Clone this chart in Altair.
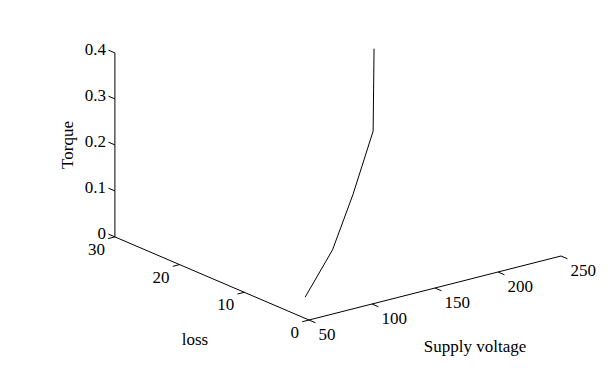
import altair as alt
import pandas as pd
import numpy as np

# ---- data (3-D curve: supply voltage, loss, torque) ----
voltage = [50, 100, 150, 200, 230]
loss = [0.6, 6.1, 12.7, 19.3, 25.0]
torque = [0.046, 0.081, 0.126, 0.190, 0.314]

volt_ticks = [50, 100, 150, 200, 250]
loss_ticks = [0, 10, 20, 30]
torque_ticks = [0, 0.1, 0.2, 0.3, 0.4]
torque_labels = ["0", "0.1", "0.2", "0.3", "0.4"]

V0, V1 = 50, 250
L0, L1 = 0, 30
T0, T1 = 0, 0.4

# ---- fixed 3-D view (MATLAB-style oblique projection) ----
ORIGIN = (309.0, 320.0)          # screen point of (V0, L0, T0)
EV = (1.26, -0.32)               # per volt
EL = (-6.47, -2.77)              # per unit loss
ET = (0.0, -460.0)               # per unit torque


def proj(v, l, t):
    v = np.asarray(v, float); l = np.asarray(l, float); t = np.asarray(t, float)
    sx = ORIGIN[0] + EV[0] * (v - V0) + EL[0] * (l - L0) + ET[0] * (t - T0)
    sy = ORIGIN[1] + EV[1] * (v - V0) + EL[1] * (l - L0) + ET[1] * (t - T0)
    return sx, sy


def unit(vec):
    n = np.hypot(*vec)
    return (vec[0] / n, vec[1] / n)


TICK = 7.0
FONT = "Liberation Serif"
FS = 17

X = alt.Scale(domain=[0, 612], range=[0, 612])
Y = alt.Scale(domain=[0, 373], range=[0, 373])

# ---- axis lines ----
ax_rows = []
for (a, b) in [((V0, L1, T0), (V0, L1, T1)),   # torque axis
               ((V0, L0, T0), (V0, L1, T0)),   # loss axis
               ((V0, L0, T0), (V1, L0, T0))]:  # voltage axis
    x1, y1 = proj(*a); x2, y2 = proj(*b)
    ax_rows.append(dict(x=float(x1), y=float(y1), x2=float(x2), y2=float(y2)))

# ---- ticks ----
tick_rows = []
lab_rows = []
ul = unit(EL)
uv = unit(EV)
for tv, tl in zip(torque_ticks, torque_labels):
    x, y = proj(V0, L1, tv)
    tick_rows.append(dict(x=float(x), y=float(y), x2=float(x + ul[0] * TICK), y2=float(y + ul[1] * TICK)))
    lab_rows.append(dict(x=float(x - 9), y=float(y - 3), text=tl, align="right"))
for lv in loss_ticks:
    x, y = proj(V0, lv, T0)
    tick_rows.append(dict(x=float(x), y=float(y), x2=float(x - uv[0] * TICK), y2=float(y - uv[1] * TICK)))
    lab_rows.append(dict(x=float(x - 10), y=float(y + 13), text=str(lv), align="right"))
for vv in volt_ticks:
    x, y = proj(vv, L0, T0)
    tick_rows.append(dict(x=float(x), y=float(y), x2=float(x - ul[0] * TICK), y2=float(y - ul[1] * TICK)))
    lab_rows.append(dict(x=float(x + 9.5), y=float(y + 15), text=str(vv), align="left"))

axes_df = pd.DataFrame(ax_rows + tick_rows)
labels_df = pd.DataFrame(lab_rows)

cx, cy = proj(voltage, loss, torque)
curve_df = pd.DataFrame({"x": cx, "y": cy, "i": range(len(voltage))})

titles_df = pd.DataFrame([
    dict(x=195.0, y=340.0, text="loss", angle=0),
    dict(x=475.0, y=347.0, text="Supply voltage", angle=0),
])

base_x = alt.X("x:Q", scale=X, axis=None)
base_y = alt.Y("y:Q", scale=Y, axis=None)

axes_layer = alt.Chart(axes_df).mark_rule(color="#000000", strokeWidth=1).encode(
    x=base_x, y=base_y, x2="x2:Q", y2="y2:Q")

curve_layer = alt.Chart(curve_df).mark_line(color="#000000", strokeWidth=1).encode(
    x=base_x, y=base_y, order="i:Q")

lab_r = alt.Chart(labels_df[labels_df["align"] == "right"]).mark_text(
    font=FONT, fontSize=FS, align="right", baseline="middle", color="#000000").encode(
    x=base_x, y=base_y, text="text:N")
lab_l = alt.Chart(labels_df[labels_df["align"] == "left"]).mark_text(
    font=FONT, fontSize=FS, align="left", baseline="middle", color="#000000").encode(
    x=base_x, y=base_y, text="text:N")

titles = alt.Chart(titles_df).mark_text(
    font=FONT, fontSize=FS, align="center", baseline="middle", color="#000000").encode(
    x=base_x, y=base_y, text="text:N")

torque_title = alt.Chart(pd.DataFrame([dict(x=68.0, y=145.0, text="Torque")])).mark_text(
    font=FONT, fontSize=FS, align="center", baseline="middle", angle=270, color="#000000").encode(
    x=base_x, y=base_y, text="text:N")

chart = alt.layer(axes_layer, curve_layer, lab_r, lab_l, titles, torque_title).properties(
    width=612, height=373, autosize=alt.AutoSizeParams(type="none"), padding=0,
    background="white"
).configure_view(stroke=None)

chart.save("out.html", embed_options={"renderer": "svg", "actions": False})
